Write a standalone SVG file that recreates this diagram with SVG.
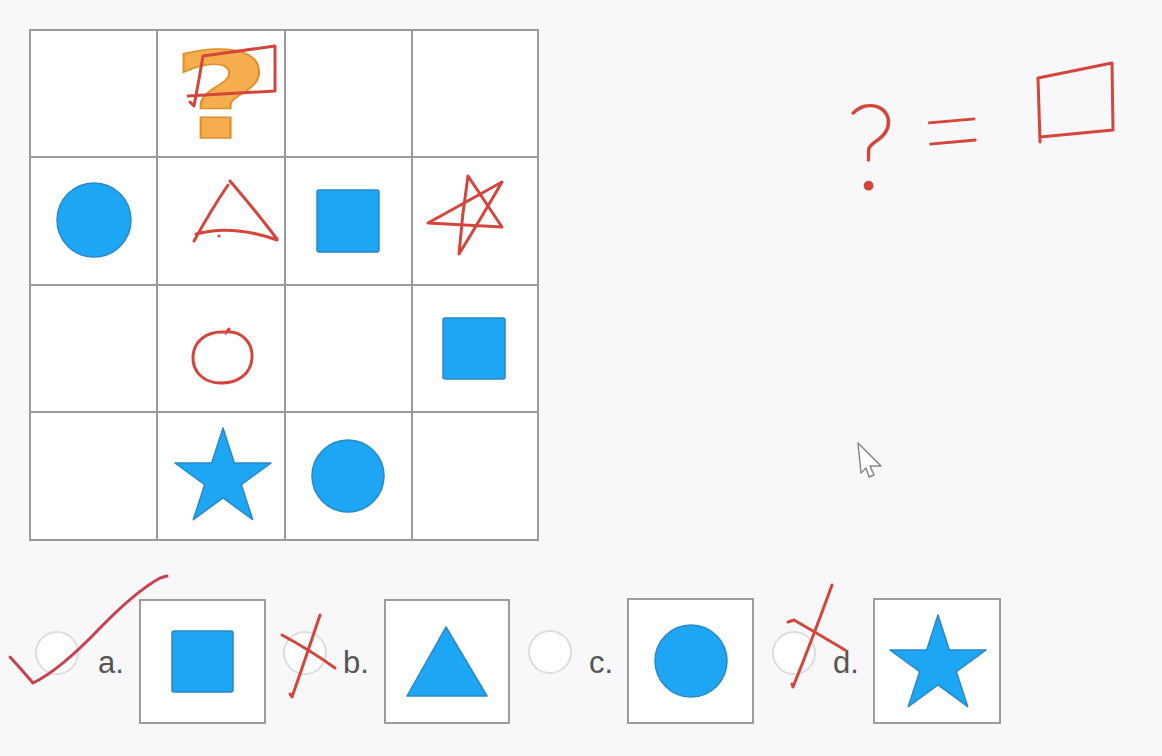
<svg xmlns="http://www.w3.org/2000/svg" width="1162" height="756" viewBox="0 0 1162 756">
<style>
.cell{fill:#ffffff;stroke:#9a9a9a;stroke-width:2}
.box{fill:#ffffff;stroke:#9d9d9d;stroke-width:2}
.blue{fill:#1da6f3;stroke:#2a88c6;stroke-width:1.5;stroke-linejoin:round}
.ink{fill:none;stroke:#d4463c;stroke-width:3;stroke-linecap:round;stroke-linejoin:round}
.ink2{fill:none;stroke:#c8424d;stroke-width:3;stroke-linecap:round;stroke-linejoin:round}
.radio{fill:#ffffff;stroke:#dddddd;stroke-width:2}
.lbl{font-family:"Liberation Sans",Arial,sans-serif;font-size:31px;fill:#555555}
.hand{font-family:Lato,"Open Sans",sans-serif;font-weight:100;fill:#d4463c;stroke:#d4463c;stroke-width:2.2;stroke-linejoin:round}
</style>
<rect x="0" y="0" width="1162" height="756" fill="#f8f8fa"/>

<g id="grid">
<rect class="cell" x="30" y="30" width="508" height="510"/>
<path d="M157,30V540M285,30V540M412,30V540M30,157H538M30,285H538M30,412H538" stroke="#9a9a9a" stroke-width="2" fill="none"/>
</g>

<g id="cell-question">
<text x="0" y="0" transform="translate(221,138) scale(1.42,1)" text-anchor="middle" font-family="'DejaVu Sans',sans-serif" font-weight="bold" font-size="119" fill="#f6ad4e" stroke="#df8f2c" stroke-width="1.5">?</text>
<path class="ink" d="M188,96 L275,91 L275,46 L203,56 Q199,80 194,106 L190,102"/>
</g>

<g id="r2c1"><circle class="blue" cx="94" cy="220" r="37"/></g>
<g id="r2c2">
<path class="ink" d="M228,185 Q211,210 194,241 M230,181 Q255,210 277,239 M196,234 Q232,224 277,240"/>
<circle cx="219" cy="236" r="1.6" fill="#d4463c"/>
</g>
<g id="r2c3"><rect class="blue" x="317" y="190" width="62" height="62" rx="2"/></g>
<g id="r2c4"><path class="ink" d="M459,254 Q462,215 468,176 L502,227 L428,223 L502,182 Q480,220 459,254"/></g>

<g id="r3c2"><path class="ink" d="M224,332 C242,330 253,343 252,358 C251,374 238,383 221,383 C204,383 192,372 193,356 C194,341 207,331 224,332 M226,333 L229,329"/></g>
<g id="r3c4"><rect class="blue" x="443" y="318" width="62" height="61" rx="2"/></g>

<g id="r4c2"><polygon class="blue" points="223,428 234.3,463.1 271.1,463.0 241.3,484.6 252.7,519.6 223,497.9 193.3,519.6 204.7,484.6 174.9,463.0 211.7,463.1"/></g>
<g id="r4c3"><circle class="blue" cx="348" cy="476" r="36"/></g>

<g id="note-equation">
<text class="hand" x="871" y="189" text-anchor="middle" font-size="118">?</text>
<text class="hand" x="0" y="0" transform="translate(955,180) scale(1.2,1.5) rotate(-4)" text-anchor="middle" font-size="96" style="stroke-width:0.9">=</text>
<path class="ink" d="M1040,142 L1038,78 L1112,63 L1113,130 L1040,137"/>
</g>

<g id="cursor"><path d="M858,443 L861,473 L866,468 L869,477 L874,475 L870,466 L881,466 Z" fill="#ffffff" stroke="#888888" stroke-width="1.5" stroke-linejoin="round"/></g>

<g id="option-a">
<circle class="radio" cx="57" cy="653" r="21"/>
<text class="lbl" x="98" y="673">a.</text>
<rect class="box" x="140" y="600" width="125" height="123"/>
<rect class="blue" x="172" y="631" width="61" height="61" rx="2"/>
</g>
<g id="option-b">
<circle class="radio" cx="305" cy="653" r="21"/>
<text class="lbl" x="343" y="673">b.</text>
<rect class="box" x="385" y="600" width="124" height="123"/>
<polygon class="blue" points="446,627 487,696 407,696"/>
</g>
<g id="option-c">
<circle class="radio" cx="550" cy="652" r="21"/>
<text class="lbl" x="589" y="673">c.</text>
<rect class="box" x="628" y="599" width="125" height="124"/>
<circle class="blue" cx="691" cy="661" r="36"/>
</g>
<g id="option-d">
<circle class="radio" cx="794" cy="653" r="21"/>
<text class="lbl" x="833" y="673">d.</text>
<rect class="box" x="874" y="599" width="126" height="124"/>
<polygon class="blue" points="938,615 949.3,650.1 986.1,650.0 956.3,671.6 967.7,706.6 938,684.9 908.3,706.6 919.7,671.6 889.9,650.0 926.7,650.1"/>
</g>

<g id="annotations">
<path class="ink2" d="M10,657 Q22,670 33,683 Q60,670 100,628 Q135,592 160,578 L167,576"/>
<path class="ink" d="M282,635 Q310,650 335,668 M320,615 Q305,660 292,697 L290,694"/>
<path class="ink" d="M832,585 Q812,640 793,687 L792,684 M788,622 L794,620 Q820,635 845,650"/>
</g>
</svg>
